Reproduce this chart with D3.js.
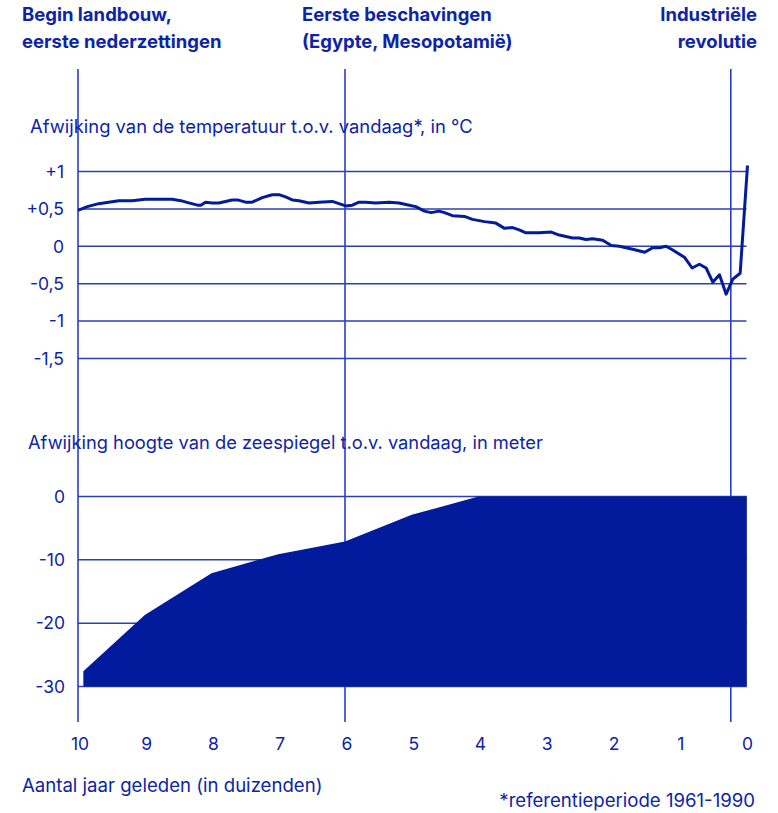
<!DOCTYPE html>
<html>
<head>
<meta charset="utf-8">
<script src="https://cdn.jsdelivr.net/npm/d3@7"></script>
<style>
  body { margin: 0; background: #fff; }
  svg text { font-family: Inter, "Noto Sans", sans-serif; fill: #0d24a6; }
</style>
</head>
<body>
<svg id="chart"></svg>
<script>
// thousands of years ago
const xTicks = [10, 9, 8, 7, 6, 5, 4, 3, 2, 1, 0];
const events = [
    { t: 10, lines: ["Begin landbouw,", "eerste nederzettingen"], anchor: "start" },
    { t: 6, lines: ["Eerste beschavingen", "(Egypte, Mesopotamië)"], anchor: "start" },
    { t: 0.22, lines: ["Industriële", "revolutie"], anchor: "end" }
];

// temperature deviation (°C)
const tempYears = [10.0, 9.86, 9.69, 9.54, 9.39, 9.19, 8.99, 8.79, 8.59, 8.46, 8.34, 8.21, 8.16, 8.09, 7.99, 7.89, 7.79, 7.69, 7.61, 7.49,
    7.39, 7.24, 7.09, 6.99, 6.89, 6.79, 6.69, 6.54, 6.39, 6.19, 6.09, 5.99, 5.89, 5.79, 5.69, 5.54, 5.34, 5.19, 5.09, 4.94,
    4.81, 4.71, 4.59, 4.51, 4.39, 4.21, 4.09, 3.91, 3.74, 3.61, 3.49, 3.39, 3.29, 3.09, 2.91, 2.79, 2.69, 2.59, 2.49, 2.39,
    2.29, 2.14, 2.01, 1.89, 1.69, 1.51, 1.39, 1.29, 1.19, 1.09, 0.91, 0.80, 0.69, 0.59, 0.49, 0.39, 0.29, 0.19, 0.08, -0.03];
const tempValues = [0.48, 0.53, 0.57, 0.59, 0.61, 0.61, 0.63, 0.63, 0.63, 0.61, 0.58, 0.55, 0.55, 0.59, 0.58, 0.58, 0.60, 0.62, 0.62, 0.59,
    0.59, 0.65, 0.69, 0.69, 0.66, 0.62, 0.61, 0.58, 0.59, 0.60, 0.57, 0.54, 0.55, 0.59, 0.59, 0.58, 0.59, 0.58, 0.56, 0.53,
    0.47, 0.45, 0.47, 0.45, 0.41, 0.40, 0.36, 0.33, 0.31, 0.24, 0.25, 0.22, 0.18, 0.18, 0.19, 0.15, 0.13, 0.11, 0.11, 0.09,
    0.10, 0.08, 0.01, 0.00, -0.04, -0.08, -0.02, -0.02, 0.00, -0.05, -0.15, -0.29, -0.24, -0.29, -0.48, -0.38, -0.64, -0.44, -0.36, 1.08];
const tempTicks = [1, 0.5, 0, -0.5, -1, -1.5];
const tempTickLabels = ["+1", "+0,5", "0", "-0,5", "-1", "-1,5"];

// sea level deviation (m)
const seaYears = [9.92, 9, 8, 7, 6, 5, 4, 0, -0.02];
const seaValues = [-27.6, -18.7, -12.1, -9.1, -7.1, -2.9, 0, 0, 0];
const seaTicks = [0, -10, -20, -30];

const width = 778, height = 813;
const navy = "#021a9c", grid = "#2d40b0", vline = "#1c2fc8";

const svg = d3.select("#chart").attr("width", width).attr("height", height);

const x = d3.scaleLinear().domain([10, 0]).range([78, 745.5]);
const yT = d3.scaleLinear().domain([1, -1.5]).range([171.5, 358.5]);
const yS = d3.scaleLinear().domain([0, -30]).range([496.5, 686.5]);

// event labels + vertical lines
events.forEach((e, i) => {
    const tx = e.anchor === "start" ? [22, 302][i] : 757;
    const g = svg.append("text").attr("text-anchor", e.anchor)
        .style("font-weight", 700).style("font-size", "18.5px");
    e.lines.forEach((l, j) => g.append("tspan").attr("x", tx).attr("y", 21 + j * 27).text(l));
});
svg.selectAll("line.ev").data(events).enter().append("line")
    .attr("x1", d => x(d.t)).attr("x2", d => x(d.t))
    .attr("y1", 69).attr("y2", 722)
    .attr("stroke", vline).attr("stroke-width", 1.5);

// temperature panel
svg.append("text").attr("x", 30).attr("y", 133).style("font-size", "18.4px")
    .text("Afwijking van de temperatuur t.o.v. vandaag*, in °C");

svg.append("g").selectAll("line").data(tempTicks).enter().append("line")
    .attr("x1", x(10)).attr("x2", x(0) + 1)
    .attr("y1", d => yT(d)).attr("y2", d => yT(d))
    .attr("stroke", grid).attr("stroke-width", 1.5);
svg.append("g").selectAll("text").data(tempTicks).enter().append("text")
    .attr("x", 64).attr("y", d => yT(d)).attr("dy", "0.36em")
    .attr("text-anchor", "end").style("font-size", "17.5px")
    .text((d, i) => tempTickLabels[i]);

const tempData = tempYears.map((t, i) => [t, tempValues[i]]);
svg.append("path").datum(tempData)
    .attr("fill", "none").attr("stroke", navy).attr("stroke-width", 3)
    .attr("stroke-linejoin", "round")
    .attr("d", d3.line().x(d => x(d[0])).y(d => yT(d[1])));

// sea level panel
svg.append("text").attr("x", 28).attr("y", 449).style("font-size", "18.3px")
    .text("Afwijking hoogte van de zeespiegel t.o.v. vandaag, in meter");

svg.append("g").selectAll("line").data(seaTicks).enter().append("line")
    .attr("x1", x(10)).attr("x2", x(-0.02))
    .attr("y1", d => yS(d)).attr("y2", d => yS(d))
    .attr("stroke", grid).attr("stroke-width", 1.5);

const seaData = seaYears.map((t, i) => [t, seaValues[i]]);
svg.append("path").datum(seaData)
    .attr("fill", navy)
    .attr("d", d3.area().x(d => x(d[0])).y0(yS(-30)).y1(d => yS(d[1])));

svg.append("g").selectAll("text").data(seaTicks).enter().append("text")
    .attr("x", 65).attr("y", d => yS(d)).attr("dy", "0.36em")
    .attr("text-anchor", "end").style("font-size", "17.5px")
    .text(d => d);

// x axis labels
svg.append("g").selectAll("text").data(xTicks).enter().append("text")
    .attr("x", d => x(d) + 2).attr("y", 750)
    .attr("text-anchor", "middle").style("font-size", "17.5px")
    .text(d => d);

svg.append("text").attr("x", 22).attr("y", 792).style("font-size", "18.6px")
    .text("Aantal jaar geleden (in duizenden)");
svg.append("text").attr("x", 755).attr("y", 807).attr("text-anchor", "end")
    .style("font-size", "18.6px")
    .text("*referentieperiode 1961-1990");
</script>
</body>
</html>
